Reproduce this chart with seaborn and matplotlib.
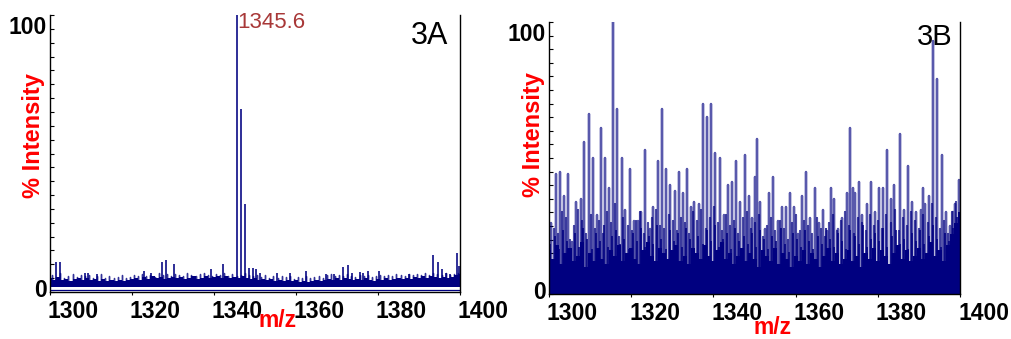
import numpy as np
import pandas as pd
import matplotlib
matplotlib.use("Agg")
import matplotlib.pyplot as plt
import matplotlib.transforms as mtransforms
from matplotlib.ticker import MultipleLocator, FixedLocator
import seaborn as sns

sns.set_theme(style="white")
plt.rcParams['font.family'] = ['Liberation Sans', 'DejaVu Sans']

# ---------------- data ----------------
mz_ticks = [1300, 1320, 1340, 1360, 1380, 1400]
y_ticks = [0, 100]

# Panel 3A: distinct peaks (m/z, % intensity)
a_peak_mz = [1301.4, 1302.4, 1308.5, 1309.3, 1311.4, 1322.9, 1324.7, 1327.2, 1328.3,
             1330.2, 1339.2, 1342.3, 1345.6, 1346.6, 1347.6, 1348.5, 1349.4, 1350.2,
             1351.1, 1355.3, 1358.5, 1362.4, 1367.3, 1369.3, 1371.4, 1372.6, 1373.6,
             1375.6, 1376.4, 1377.5, 1380.3, 1387.6, 1393.5, 1394.6, 1395.5, 1396.7,
             1397.6, 1399.3, 1399.8]
a_peak_int = [10.4, 10.5, 6.5, 6.5, 6.0, 7.3, 6.4, 10.4, 11.3,
              9.7, 7.9, 9.8, 100.0, 65.6, 31.3, 8.4, 8.4, 8.0,
              6.5, 6.5, 6.5, 7.3, 6.0, 6.0, 8.5, 9.4, 6.5,
              6.7, 6.5, 7.4, 7.4, 6.2, 13.0, 10.5, 8.0, 6.5,
              6.2, 13.7, 9.0]
# Panel 3A: small "grass" spikes on the baseline, one per m/z unit (1300.5..1399.5)
a_grass_mz = [1300.5 + i for i in range(100)]
a_grass_int = [6.2, 5.4, 6.8, 5.0, 5.9, 6.5, 5.3, 6.0, 5.6, 6.3,
               5.2, 5.8, 6.4, 5.1, 5.7, 5.0, 5.5, 6.1, 4.9, 5.4,
               6.0, 5.6, 6.6, 5.9, 6.3, 5.5, 6.8, 6.0, 6.4, 5.8,
               6.5, 6.1, 5.7, 6.9, 6.2, 5.9, 6.6, 7.0, 6.3, 5.8,
               6.4, 6.0, 6.7, 5.9, 6.5, 5.6, 6.3, 6.9, 6.1, 5.7,
               6.2, 5.5, 6.0, 5.2, 5.8, 5.0, 5.6, 5.3, 5.9, 4.8,
               5.4, 5.0, 5.7, 4.9, 5.5, 5.8, 5.2, 6.0, 6.4, 5.6,
               6.2, 5.8, 6.5, 5.9, 5.4, 6.1, 5.7, 6.3, 5.5, 5.9,
               6.0, 5.6, 6.2, 5.8, 6.4, 6.1, 5.7, 6.5, 6.0, 6.6,
               6.3, 6.8, 6.1, 6.7, 6.4, 6.0, 6.9, 6.2, 6.6, 7.0]
# Panel 3A: top of the baseline noise band, one value per m/z unit 1300..1400
a_noise_mz = list(range(1300, 1401))
a_noise_top = [5.0, 4.5, 5.5, 4.2, 4.8, 4.0, 4.6, 5.2, 4.3, 5.0,
               4.4, 4.8, 4.1, 4.6, 3.9, 4.3, 4.0, 4.5, 3.8, 4.2,
               4.6, 5.0, 4.4, 5.3, 4.8, 5.6, 5.0, 5.4, 4.7, 5.2,
               5.5, 4.9, 5.3, 4.6, 5.1, 5.6, 4.8, 5.2, 5.7, 5.0,
               5.4, 5.8, 5.2, 5.6, 5.0, 5.5, 5.2, 5.8, 5.0, 4.6,
               5.0, 4.4, 4.8, 4.2, 4.6, 4.0, 4.4, 3.9, 4.3, 3.8,
               4.2, 3.7, 4.1, 3.6, 4.0, 4.4, 3.9, 4.5, 4.8, 4.3,
               4.9, 4.5, 5.0, 4.6, 4.2, 4.8, 4.4, 5.0, 4.5, 4.1,
               4.7, 4.3, 4.9, 4.4, 4.8, 5.0, 4.6, 5.2, 4.8, 5.4,
               5.0, 5.6, 5.2, 5.8, 5.3, 5.0, 5.5, 4.9, 5.4, 6.0,
               6.5]
a_label_text = "1345.6"
a_label_mz = 1345.6

# Panel 3B: major peaks
b_peak_mz = [1300.6, 1301.7, 1302.7, 1303.7, 1304.6, 1305.6, 1306.6, 1307.7, 1308.6, 1309.7,
             1310.6, 1311.6, 1312.6, 1313.7, 1314.6, 1315.6, 1316.6, 1317.7, 1318.6, 1319.6,
             1320.8, 1321.6, 1322.4, 1323.4, 1324.5, 1325.3, 1326.4, 1327.5, 1328.5, 1329.5,
             1330.6, 1331.6, 1332.6, 1333.6, 1334.5, 1335.4, 1336.5, 1337.5, 1338.5, 1339.5,
             1340.5, 1341.5, 1342.6, 1343.6, 1344.5, 1345.5, 1346.5, 1347.6, 1348.6, 1349.5,
             1350.1, 1350.6, 1351.4, 1352.6, 1353.6, 1354.6, 1355.6, 1356.6, 1357.7, 1358.6,
             1359.5, 1360.5, 1361.6, 1362.6, 1363.6, 1364.6, 1365.6, 1366.6, 1367.6, 1368.5,
             1369.4, 1370.2, 1371.3, 1372.4, 1373.3, 1373.9, 1374.5, 1375.4, 1376.2, 1377.3,
             1378.3, 1379.2, 1380.3, 1381.3, 1382.2, 1383.3, 1383.9, 1385.3, 1386.4, 1387.4,
             1388.4, 1389.4, 1390.4, 1391.1, 1391.5, 1392.5, 1393.4, 1394.3, 1395.5, 1396.5,
             1397.6, 1398.3, 1398.9, 1399.8]
b_peak_int = [26, 44, 45, 36, 44, 19, 34, 35, 56, 66,
              50, 29, 61, 50, 39, 100, 68, 50, 31, 46,
              27, 27, 30, 53, 24, 32, 49, 68, 46, 40,
              38, 45, 37, 46, 32, 34, 33, 70, 65, 70,
              52, 50, 29, 40, 41, 49, 34, 51, 36, 28,
              43, 57, 34, 24, 37, 43, 27, 32, 32, 37,
              32, 22, 36, 45, 28, 39, 26, 31, 23, 39,
              35, 24, 28, 37, 61, 39, 37, 41, 29, 33,
              41, 30, 39, 39, 53, 35, 40, 59, 31, 47,
              34, 30, 31, 39, 33, 36, 93, 79, 51, 30,
              25, 30, 33, 42]
# Panel 3B: smaller peaks between the major ones (one per m/z unit, 1300.1..1399.1)
b_minor_mz = [1300.1 + i for i in range(100)]
b_minor_int = [26, 24, 22, 30, 28, 20, 25, 31, 27, 22,
               29, 24, 27, 22, 30, 26, 33, 21, 28, 25,
               23, 27, 30, 22, 26, 28, 31, 25, 24, 29,
               27, 23, 28, 26, 22, 30, 27, 31, 24, 28,
               32, 26, 23, 29, 25, 27, 22, 28, 30, 24,
               26, 29, 21, 25, 28, 23, 27, 24, 20, 26,
               29, 23, 27, 25, 22, 28, 24, 21, 26, 29,
               23, 27, 30, 25, 22, 28, 26, 23, 29, 25,
               27, 24, 29, 26, 31, 23, 28, 25, 30, 27,
               24, 29, 26, 33, 28, 24, 27, 22, 30, 34]
# Panel 3B: further small peaks (one per m/z unit, 1300.35..1399.35)
b_minor2_mz = [1300.35 + i for i in range(100)]
b_minor2_int = [18, 21, 16, 23, 19, 15, 22, 17, 24, 20,
                16, 22, 19, 25, 17, 21, 23, 18, 20, 16,
                22, 19, 24, 17, 21, 18, 25, 20, 16, 23,
                19, 22, 17, 24, 20, 15, 21, 18, 23, 19,
                25, 17, 20, 22, 16, 24, 19, 21, 18, 22,
                17, 23, 20, 16, 21, 19, 24, 18, 15, 22,
                20, 17, 23, 19, 16, 21, 18, 24, 20, 17,
                22, 19, 16, 23, 21, 18, 25, 17, 20, 22,
                19, 24, 17, 21, 23, 18, 20, 16, 22, 19,
                23, 18, 21, 25, 20, 17, 22, 19, 24, 28]
# Panel 3B: top of the dense (solid) lower region, one value per m/z unit
b_floor_mz = list(range(1300, 1401))
b_floor = [16, 13, 18, 11, 15, 17, 12, 14, 19, 10,
           15, 12, 17, 13, 11, 16, 14, 18, 12, 15,
           17, 13, 11, 16, 19, 14, 12, 17, 15, 13,
           16, 18, 12, 14, 11, 17, 15, 13, 18, 14,
           12, 16, 19, 13, 15, 11, 14, 17, 12, 15,
           13, 10, 16, 14, 12, 17, 11, 15, 13, 10,
           14, 12, 16, 11, 15, 13, 10, 14, 17, 12,
           15, 11, 13, 16, 12, 14, 10, 15, 13, 17,
           12, 16, 14, 11, 15, 18, 13, 16, 12, 14,
           17, 13, 15, 19, 14, 16, 12, 18, 22, 26,
           30]

NAVY = "#000080"
RED = "#ff0000"


def stick_frame(mz, inten, base):
    xs, ys = [], []
    for m, h in zip(mz, inten):
        xs += [m, m, m]
        ys += [base, h, base]
    return pd.DataFrame({"mz": xs, "intensity": ys})


def sticks(ax, mz, inten, base, lw, alpha):
    sns.lineplot(data=stick_frame(mz, inten, base), x="mz", y="intensity",
                 sort=False, estimator=None, color=NAVY, lw=lw, alpha=alpha, ax=ax)


fig = plt.figure(figsize=(10.11, 3.39), dpi=100)
axA = fig.add_axes([50 / 1011, 1 - 292 / 339, 410 / 1011, 277 / 339])
axB = fig.add_axes([549 / 1011, 1 - 294 / 339, 411 / 1011, 272 / 339])

# ---- Panel A ----
axA.fill_between(a_noise_mz, [1.8] * len(a_noise_mz), a_noise_top, color=NAVY, lw=0,
                 step="mid")
axA.plot([1300, 1400], [0.9, 0.9], color=NAVY, lw=0.9)
sticks(axA, a_grass_mz, a_grass_int, 3.0, 1.0, 0.8)
sticks(axA, a_peak_mz, a_peak_int, 3.0, 1.3, 0.8)
axA.annotate(a_label_text, xy=(a_label_mz, 100), xytext=(0, 2), textcoords="offset points",
             ha="left", va="top", fontsize=16, color="#a83838", annotation_clip=False)
axA.text(0.971, 0.924, "3A", transform=axA.transAxes, ha="right", va="center",
         fontsize=22, color="black")

# ---- Panel B ----
axB.fill_between(b_floor_mz, [0] * len(b_floor_mz), b_floor, color=NAVY, lw=0, step="mid")
sticks(axB, b_minor2_mz, b_minor2_int, 0.0, 1.4, 0.8)
sticks(axB, b_minor_mz, b_minor_int, 0.0, 1.5, 0.7)
sticks(axB, b_peak_mz, b_peak_int, 0.0, 1.7, 0.65)
axB.text(0.981, 0.946, "3B", transform=axB.transAxes, ha="right", va="center",
         fontsize=21, color="black")

label_pos = {axA: ((-0.012, 0.563), (0.556, -0.061), -10, 4),
             axB: ((-0.010, 0.588), (0.545, -0.080), -10, 4)}

for ax in (axA, axB):
    ax.set_xlim(1300, 1400)
    ax.set_ylim(0, 100)
    ax.xaxis.set_major_locator(FixedLocator(mz_ticks))
    ax.yaxis.set_major_locator(FixedLocator(y_ticks))
    ax.yaxis.set_minor_locator(MultipleLocator(5))
    ax.set_xticklabels([str(t) for t in mz_ticks], fontsize=16.5, fontweight="bold",
                       color="black", ha="left")
    ax.set_yticklabels([str(t) for t in y_ticks], fontsize=16.5, fontweight="bold",
                       color="black")
    ax.tick_params(axis="x", which="major", direction="out", length=2.5, width=0.8,
                   color="black", pad=3, bottom=True)
    ax.tick_params(axis="y", which="both", direction="in", length=3, width=0.8,
                   color="black", pad=2, left=True)
    for side in ("left", "right", "bottom"):
        ax.spines[side].set_visible(True)
        ax.spines[side].set_color("black")
        ax.spines[side].set_linewidth(1.0)
    ax.spines["top"].set_visible(False)
    ylab, xlab, dtop, dbot = label_pos[ax]
    ax.set_ylabel("% Intensity", fontsize=17, fontweight="bold", color=RED, labelpad=0)
    ax.yaxis.set_label_coords(*ylab)
    ax.set_xlabel("m/z", fontsize=16.5, fontweight="bold", color=RED, labelpad=0)
    ax.xaxis.set_label_coords(*xlab)
    ax.grid(False)
    for lbl in ax.get_xticklabels():
        lbl.set_transform(lbl.get_transform() +
                          mtransforms.ScaledTranslation(-2 / 100, 0, fig.dpi_scale_trans))
    ylbls = ax.get_yticklabels()
    ylbls[1].set_transform(ylbls[1].get_transform() +
                           mtransforms.ScaledTranslation(0, dtop / 100, fig.dpi_scale_trans))
    ylbls[0].set_transform(ylbls[0].get_transform() +
                           mtransforms.ScaledTranslation(0, dbot / 100, fig.dpi_scale_trans))

fig.savefig("out.png", dpi=100, facecolor="white")
